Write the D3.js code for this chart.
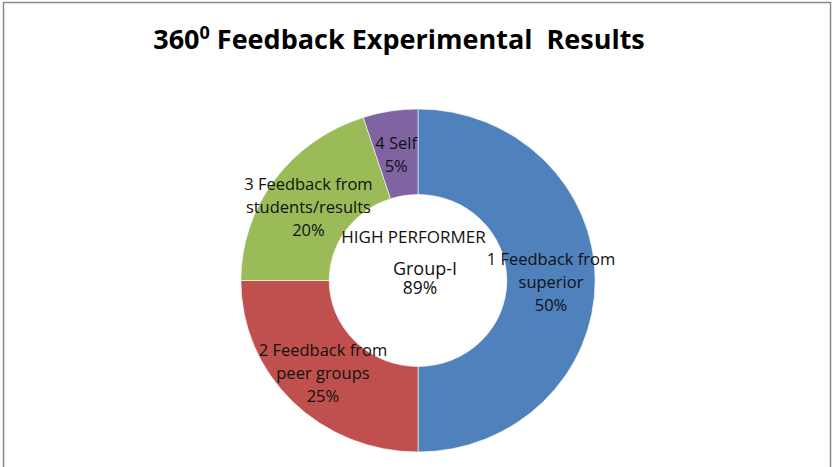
<!DOCTYPE html>
<html>
<head>
<meta charset="utf-8">
<script src="https://cdn.jsdelivr.net/npm/d3@7"></script>
<style>
  body { margin: 0; background: #fff; }
  svg { display: block; }
</style>
</head>
<body>
<svg id="chart"></svg>
<script>
// data
const categories = ["1 Feedback from superior", "2 Feedback from peer groups", "3 Feedback from students/results", "4 Self"];
const labelLines = [
  ["1 Feedback from", "superior", "50%"],
  ["2 Feedback from", "peer groups", "25%"],
  ["3 Feedback from", "students/results", "20%"],
  ["4 Self", "5%"]
];
const values = [50, 25, 20, 5];
const colors = ["#4F81BD", "#C0504D", "#9BBB59", "#8064A2"];
const centerTitle = "HIGH PERFORMER";
const groupName = "Group-I";
const groupValue = "89%";

const width = 833, height = 467;
const cx = 418, cy = 280.5;
const outerR = 171.5, innerR = 86;
const stretch = 1.033; // picture is a bit wider than tall

const svg = d3.select("#chart").attr("width", width).attr("height", height);

// outer frame
svg.append("rect")
  .attr("x", 3.5).attr("y", 2.5)
  .attr("width", 827).attr("height", 480)
  .attr("fill", "#fff")
  .attr("stroke", "#8a8a8a")
  .attr("stroke-width", 1.5);

// title
const title = svg.append("text")
  .attr("x", 399)
  .attr("y", 49)
  .attr("text-anchor", "middle")
  .style("font-family", "'Open Sans', sans-serif")
  .style("font-weight", "bold")
  .style("font-size", "27px")
  .attr("fill", "#000");
title.append("tspan").text("360");
title.append("tspan").attr("dy", -10).style("font-size", "18px").text("0");
title.append("tspan").attr("dy", 10).text(" Feedback Experimental\u00a0 Results");

const pie = d3.pie().sort(null).value(d => d);
const arc = d3.arc().innerRadius(innerR).outerRadius(outerR);
const arcs = pie(values);

const ring = svg.append("g")
  .attr("transform", `translate(${cx},${cy}) scale(${stretch},1)`);

ring.selectAll("path")
  .data(arcs)
  .join("path")
  .attr("d", arc)
  .attr("fill", (d, i) => colors[i])
  .attr("stroke", "#fff")
  .attr("stroke-width", 0.6)
  .attr("vector-effect", "non-scaling-stroke");

// slice labels, placed near the middle of each ring section
const nudge = [[0, 1.5], [-1, 1.5], [-2, 2], [-1, 1]];
const lineH = 23.3;

svg.append("g")
  .selectAll("text")
  .data(arcs)
  .join("text")
  .attr("text-anchor", "middle")
  .style("font-family", "'Open Sans', sans-serif")
  .style("font-size", "16.5px")
  .attr("fill", "#111")
  .each(function (d, i) {
    const [x, y] = arc.centroid(d);
    const lines = labelLines[i];
    const px = cx + x * stretch + nudge[i][0];
    const py = cy + y + nudge[i][1] - (lines.length - 1) * lineH / 2;
    d3.select(this).selectAll("tspan")
      .data(lines)
      .join("tspan")
      .attr("x", px)
      .attr("y", (l, j) => py + j * lineH + 6)
      .text(l => l);
  });

// centre texts
const mid = svg.append("g")
  .style("font-family", "'Open Sans', sans-serif")
  .attr("text-anchor", "middle")
  .attr("fill", "#111");
mid.append("text").attr("x", 413.5).attr("y", 243).style("font-size", "17px").text(centerTitle);
mid.append("text").attr("x", 425).attr("y", 275).style("font-size", "18px").text(groupName);
mid.append("text").attr("x", 420).attr("y", 294).style("font-size", "17.5px").text(groupValue);
</script>
</body>
</html>
